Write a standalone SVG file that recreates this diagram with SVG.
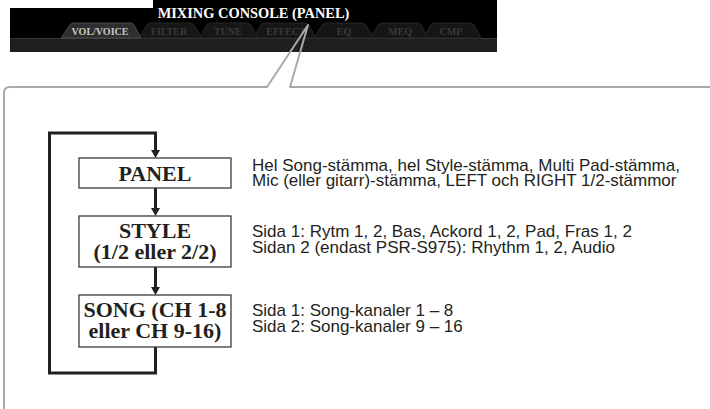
<svg xmlns="http://www.w3.org/2000/svg" width="710" height="409" viewBox="0 0 710 409">
<style>
.tabA{fill:#2e2e2e;stroke:#4a4a4a;stroke-width:1}
.tab{fill:#161616;stroke:#262626;stroke-width:1}
.tt{font-family:"Liberation Serif",serif;font-weight:bold;font-size:10px;text-anchor:middle;fill:#3a3a3a}
.box{fill:#fff;stroke:#3a3a3a;stroke-width:1.3}
.bt{font-family:"Liberation Serif",serif;font-weight:bold;font-size:22px;text-anchor:middle;fill:#231f20}
.desc{font-family:"Liberation Sans",Arial,sans-serif;font-size:17px;fill:#231f20}
.flow{fill:none;stroke:#231f20;stroke-width:3}
</style>
<defs>
<marker id="ah" markerUnits="userSpaceOnUse" markerWidth="9" markerHeight="9" refX="2" refY="4.5" orient="auto">
<path d="M0,0 L8,4.5 L0,9 z" fill="#231f20"/>
</marker>
</defs>
<rect width="710" height="409" fill="#fff"/>
<g id="screen">
<rect x="153" y="0" width="344" height="9" fill="#000"/>
<rect x="10" y="8" width="487" height="44" fill="#000"/>
<rect x="10" y="38" width="487" height="14" fill="#1e1e1e"/>
<line x1="10" y1="38.5" x2="497" y2="38.5" stroke="#3a3a3a" stroke-width="1"/>
<text x="253.5" y="18" font-family="Liberation Serif,serif" font-weight="bold" font-size="14.4" text-anchor="middle" fill="#fff">MIXING CONSOLE (PANEL)</text>
<path class="tab" d="M423,38 L431,25 Q432,23 435,23 H470 Q473,23 474,25 L481,38 z"/>
<path class="tab" d="M370,38 L378,25 Q379,23 382,23 H417 Q420,23 421,25 L428,38 z"/>
<path class="tab" d="M314,38 L322,25 Q323,23 326,23 H362 Q365,23 366,25 L373,38 z"/>
<path class="tab" d="M253,38 L261,25 Q262,23 265,23 H305 Q308,23 309,25 L316,38 z"/>
<path class="tab" d="M199,38 L207,25 Q208,23 211,23 H247 Q250,23 251,25 L258,38 z"/>
<path class="tab" d="M139,38 L147,25 Q148,23 151,23 H190 Q193,23 194,25 L202,38 z"/>
<path class="tabA" d="M61,38 L70,25 Q71,23 74,23 H130 Q133,23 134,25 L141,38 z"/>
<text class="tt" x="100" y="35" style="fill:#c8c8c8">VOL/VOICE</text>
<text class="tt" x="169" y="35">FILTER</text>
<text class="tt" x="228" y="35">TUNE</text>
<text class="tt" x="286" y="35">EFFECT</text>
<text class="tt" x="344" y="35">EQ</text>
<text class="tt" x="400" y="35">MEQ</text>
<text class="tt" x="451" y="35">CMP</text>
</g>
<g id="callout">
<path d="M4,409 V93 Q4,87 10,87 H267 L308,25 L290,87 H710" fill="none" stroke="#a9a9ad" stroke-width="2" stroke-linejoin="round"/>
</g>
<g id="connectors">
<path class="flow" d="M155.5,347 V373 H49.5 V133 H155.5 V152" marker-end="url(#ah)"/>
<path class="flow" d="M155.5,188 V210" marker-end="url(#ah)"/>
<path class="flow" d="M155.5,267 V289" marker-end="url(#ah)"/>
</g>
<g id="panel">
<rect class="box" x="79" y="158" width="152" height="30"/>
<text class="bt" x="155" y="180.5">PANEL</text>
</g>
<g id="style">
<rect class="box" x="79" y="216" width="152" height="51"/>
<text class="bt" x="155" y="238">STYLE</text>
<text class="bt" x="155" y="259">(1/2 eller 2/2)</text>
</g>
<g id="song">
<rect class="box" x="79" y="295" width="152" height="52"/>
<text class="bt" x="155" y="317">SONG (CH 1-8</text>
<text class="bt" x="155" y="338">eller CH 9-16)</text>
</g>
<g id="descriptions">
<text class="desc" x="252" y="170.5">Hel Song-stämma, hel Style-stämma, Multi Pad-stämma,</text>
<text class="desc" x="252" y="186.3">Mic (eller gitarr)-stämma, LEFT och RIGHT 1/2-stämmor</text>
<text class="desc" x="252" y="236.7">Sida 1: Rytm 1, 2, Bas, Ackord 1, 2, Pad, Fras 1, 2</text>
<text class="desc" x="252" y="252.5">Sidan 2 (endast PSR-S975): Rhythm 1, 2, Audio</text>
<text class="desc" x="252" y="316">Sida 1: Song-kanaler 1 – 8</text>
<text class="desc" x="252" y="331.8">Sida 2: Song-kanaler 9 – 16</text>
</g>
</svg>
